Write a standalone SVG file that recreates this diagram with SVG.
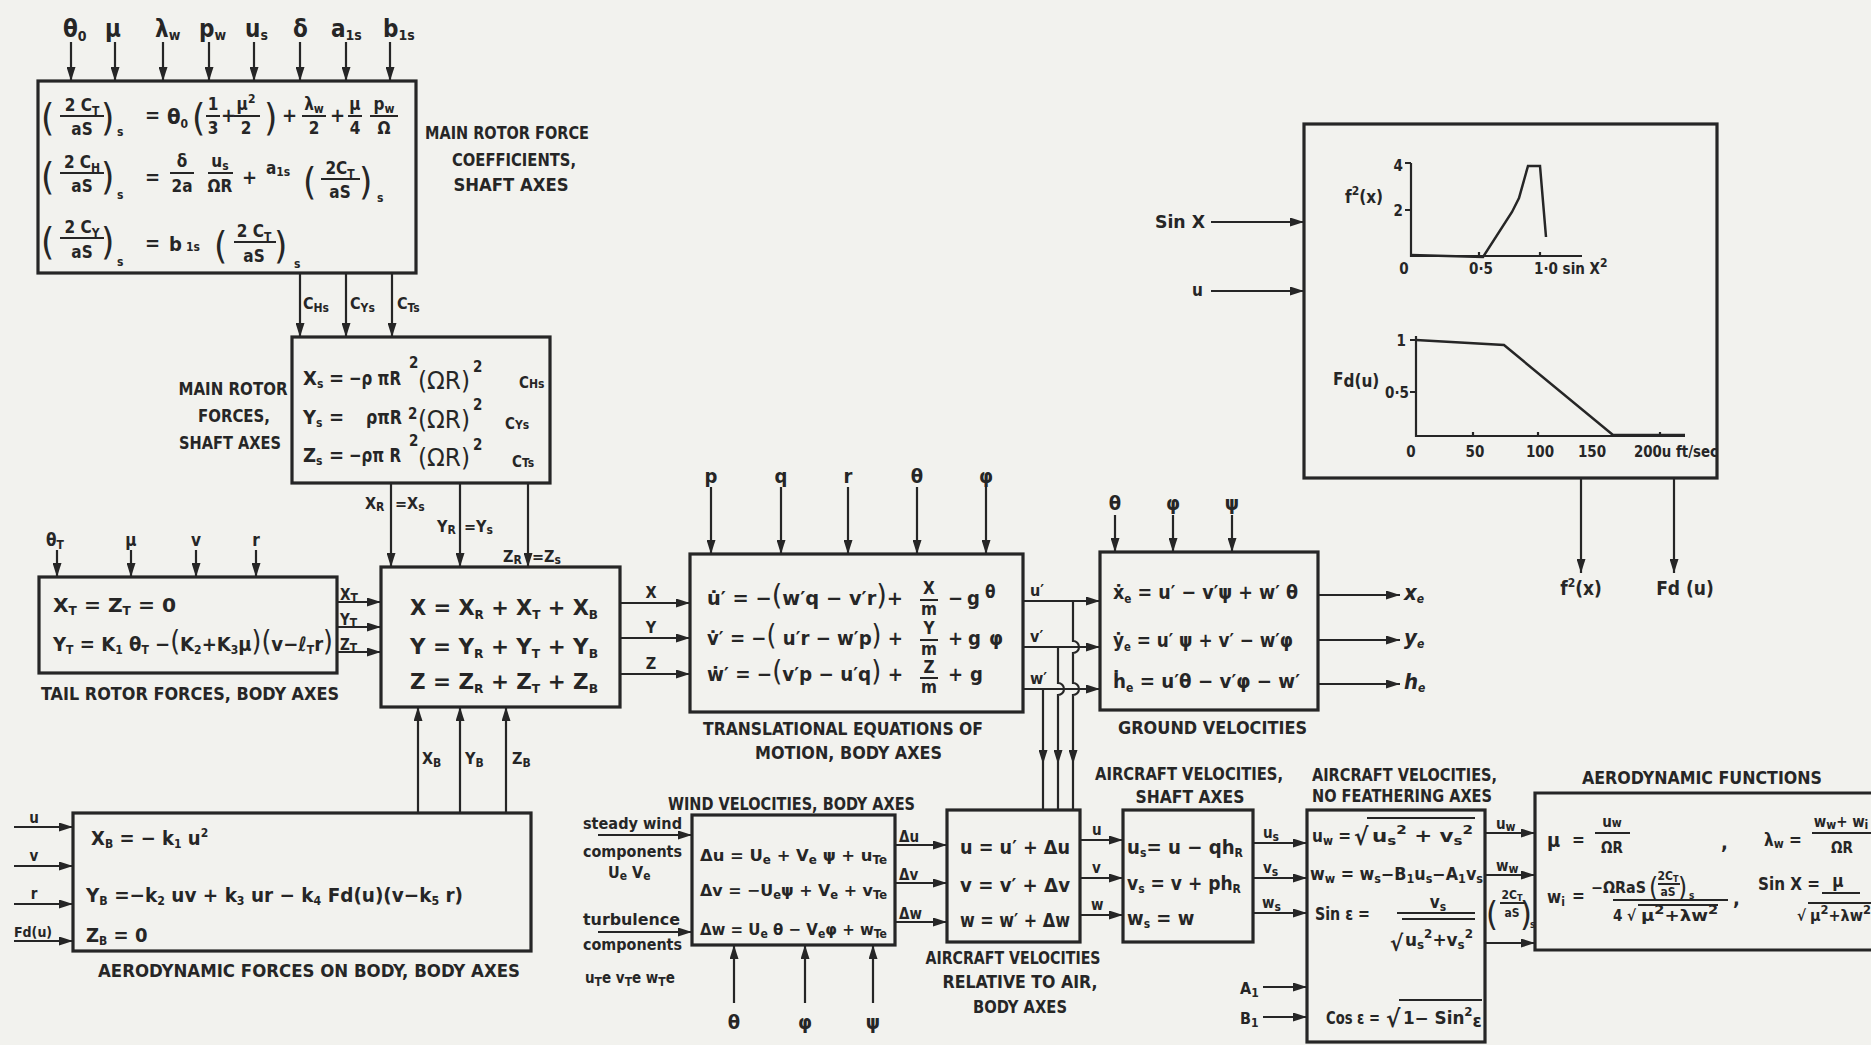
<svg xmlns="http://www.w3.org/2000/svg" width="1871" height="1045" viewBox="0 0 1871 1045">
<style>
.t{font-family:"DejaVu Sans Condensed","DejaVu Sans",sans-serif;font-weight:bold;fill:#262626}
.e{font-size:20px}
.w{font-size:16.5px}
.f{font-size:17px}
.s{font-size:12px}
.c{font-size:17px}
.l{font-size:16px}
.g{font-size:15px}
.p{font-size:38px;font-weight:normal}
.q{font-size:28px;font-weight:normal}
.box{fill:none;stroke:#262626;stroke-width:3.2}
.ln{fill:none;stroke:#262626;stroke-width:2.2}
.bar{stroke:#262626;stroke-width:2}
.cv{fill:none;stroke:#262626;stroke-width:2.5}
</style>
<defs>
<marker id="ah" markerUnits="userSpaceOnUse" markerWidth="14" markerHeight="9" refX="14" refY="4.5" orient="auto">
<path d="M0,0 L14,4.5 L0,9 z" fill="#262626"/>
</marker>
</defs>
<rect x="0" y="0" width="1871" height="1045" fill="#f2f2ee"/>

<g id="connectors">
<g marker-end="url(#ah)" class="ln">
<path d="M71,42 V81"/><path d="M115,42 V81"/><path d="M163,42 V81"/><path d="M209,42 V81"/>
<path d="M254,42 V81"/><path d="M300,42 V81"/><path d="M346,42 V81"/><path d="M390,42 V81"/>
<path d="M300,273 V337"/><path d="M346,273 V337"/><path d="M392,273 V337"/>
<path d="M391,483 V567"/><path d="M460,483 V567"/><path d="M528,483 V567"/>
<path d="M57,550 V577"/><path d="M131,550 V577"/><path d="M196,550 V577"/><path d="M256,550 V577"/>
<path d="M337,602 H381"/><path d="M337,627 H381"/><path d="M337,652 H381"/>
<path d="M418,813 V707"/><path d="M460,813 V707"/><path d="M506,813 V707"/>
<path d="M14,827 H73"/><path d="M14,866 H73"/><path d="M14,904 H73"/><path d="M14,941 H73"/>
<path d="M620,603 H690"/><path d="M620,638 H690"/><path d="M620,674 H690"/>
<path d="M711,487 V554"/><path d="M781,487 V554"/><path d="M848,487 V554"/><path d="M917,487 V554"/><path d="M986,487 V554"/>
<path d="M1023,601 H1100"/><path d="M1023,647 H1100"/><path d="M1023,689 H1100"/>
<path d="M1073,601 V641 a6,6 0 0 1 0,12 V683 a6,6 0 0 1 0,12 V764"/>
<path d="M1058,647 V683 a6,6 0 0 1 0,12 V764"/>
<path d="M1043,689 V764"/>
<path d="M1115,515 V552"/><path d="M1173,515 V552"/><path d="M1232,515 V552"/>
<path d="M1318,595 H1400"/><path d="M1318,640 H1400"/><path d="M1318,684 H1400"/>
<path d="M1211,222 H1304"/><path d="M1211,291 H1304"/>
<path d="M1581,478 V573"/><path d="M1674,478 V573"/>
<path d="M598,835 H692"/><path d="M598,932 H692"/>
<path d="M734,1003 V945"/><path d="M805,1003 V945"/><path d="M873,1003 V945"/>
<path d="M895,845 H947"/><path d="M895,883 H947"/><path d="M895,922 H947"/>
<path d="M1080,840 H1123"/><path d="M1080,878 H1123"/><path d="M1080,915 H1123"/>
<path d="M1253,843 H1307"/><path d="M1253,878 H1307"/><path d="M1253,913 H1307"/>
<path d="M1263,987 H1307"/><path d="M1263,1017 H1307"/>
<path d="M1485,833 H1535"/><path d="M1485,875 H1535"/><path d="M1485,943 H1535"/>
</g>
<path class="ln" d="M1073,764 V810"/><path class="ln" d="M1058,764 V810"/><path class="ln" d="M1043,764 V810"/>
<text class="t" style="font-size:24px" x="63" y="37">θ<tspan style="font-size:14px" dy="4">0</tspan></text>
<text class="t" style="font-size:24px" x="105" y="37">μ</text>
<text class="t" style="font-size:24px" x="155" y="37">λ<tspan style="font-size:14px" dy="3">w</tspan></text>
<text class="t" style="font-size:24px" x="199" y="37">p<tspan style="font-size:14px" dy="3">w</tspan></text>
<text class="t" style="font-size:24px" x="245" y="37">u<tspan style="font-size:14px" dy="3">s</tspan></text>
<text class="t" style="font-size:24px" x="293" y="37">δ</text>
<text class="t" style="font-size:24px" x="331" y="37">a<tspan style="font-size:14px" dy="3">1s</tspan></text>
<text class="t" style="font-size:24px" x="383" y="37">b<tspan style="font-size:14px" dy="3">1s</tspan></text>
<text class="t l" x="303" y="309">C<tspan class="s" dy="3">Hs</tspan></text>
<text class="t l" x="350" y="309">C<tspan class="s" dy="3">Ys</tspan></text>
<text class="t l" x="397" y="309">C<tspan class="s" dy="3">Ts</tspan></text>
<text class="t l" x="365" y="509">X<tspan class="s" dy="2">R</tspan></text>
<text class="t l" x="395" y="509">=X<tspan class="s" dy="2">s</tspan></text>
<text class="t l" x="437" y="532">Y<tspan class="s" dy="2">R</tspan></text>
<text class="t l" x="464" y="532">=Y<tspan class="s" dy="2">s</tspan></text>
<text class="t l" x="503" y="562">Z<tspan class="s" dy="2">R</tspan></text>
<text class="t l" x="532" y="562">=Z<tspan class="s" dy="2">s</tspan></text>
<text class="t f" x="46" y="546">θ<tspan class="s" dy="3">T</tspan></text>
<text class="t f" x="131" y="546" text-anchor="middle">μ</text>
<text class="t f" x="196" y="546" text-anchor="middle">v</text>
<text class="t f" x="256" y="546" text-anchor="middle">r</text>
<text class="t g" x="340" y="600">X<tspan class="s" dy="2">T</tspan></text>
<text class="t g" x="340" y="625">Y<tspan class="s" dy="2">T</tspan></text>
<text class="t g" x="340" y="650">Z<tspan class="s" dy="2">T</tspan></text>
<text class="t l" x="422" y="764">X<tspan class="s" dy="3">B</tspan></text>
<text class="t l" x="465" y="764">Y<tspan class="s" dy="3">B</tspan></text>
<text class="t l" x="512" y="764">Z<tspan class="s" dy="3">B</tspan></text>
<text class="t g" x="34" y="823" text-anchor="middle">u</text>
<text class="t g" x="34" y="861" text-anchor="middle">v</text>
<text class="t g" x="34" y="899" text-anchor="middle">r</text>
<text class="t" style="font-size:14px" x="14" y="937">Fd(u)</text>
<text class="t l" x="651" y="598" text-anchor="middle">X</text>
<text class="t l" x="651" y="633" text-anchor="middle">Y</text>
<text class="t l" x="651" y="669" text-anchor="middle">Z</text>
<text class="t e" x="711" y="483" text-anchor="middle">p</text>
<text class="t e" x="781" y="483" text-anchor="middle">q</text>
<text class="t e" x="848" y="483" text-anchor="middle">r</text>
<text class="t e" x="917" y="483" text-anchor="middle">θ</text>
<text class="t e" x="986" y="483" text-anchor="middle">φ</text>
<text class="t l" x="1030" y="596">u′</text>
<text class="t l" x="1030" y="642">v′</text>
<text class="t l" x="1030" y="684">w′</text>
<text class="t e" x="1115" y="510" text-anchor="middle">θ</text>
<text class="t e" x="1173" y="510" text-anchor="middle">φ</text>
<text class="t e" x="1232" y="510" text-anchor="middle">ψ</text>
<text class="t" style="font-size:22px;font-style:italic" x="1404" y="600">x<tspan class="s" dy="3">e</tspan></text>
<text class="t" style="font-size:22px;font-style:italic" x="1404" y="645">y<tspan class="s" dy="3">e</tspan></text>
<text class="t" style="font-size:22px;font-style:italic" x="1404" y="689">h<tspan class="s" dy="3">e</tspan></text>
<text class="t f" x="1155" y="228" textLength="50" lengthAdjust="spacingAndGlyphs">Sin X</text>
<text class="t f" x="1192" y="296">u</text>
<text class="t" style="font-size:19px" x="1581" y="595" text-anchor="middle">f<tspan class="s" dy="-8">2</tspan><tspan dy="8">(x)</tspan></text>
<text class="t" style="font-size:19px" x="1685" y="595" text-anchor="middle">Fd (u)</text>
<text class="t l" x="583" y="829" textLength="99" lengthAdjust="spacingAndGlyphs">steady wind</text>
<text class="t l" x="583" y="857" textLength="99" lengthAdjust="spacingAndGlyphs">components</text>
<text class="t l" x="608" y="878">U<tspan class="s" dy="2">e</tspan><tspan dy="-2"> V</tspan><tspan class="s" dy="2">e</tspan></text>
<text class="t l" x="583" y="925" textLength="97" lengthAdjust="spacingAndGlyphs">turbulence</text>
<text class="t l" x="583" y="950" textLength="99" lengthAdjust="spacingAndGlyphs">components</text>
<text class="t" style="font-size:15px" x="585" y="983">u<tspan class="s" dy="3">T</tspan><tspan dy="-3">e  v</tspan><tspan class="s" dy="3">T</tspan><tspan dy="-3">e  w</tspan><tspan class="s" dy="3">T</tspan><tspan dy="-3">e</tspan></text>
<text class="t e" x="734" y="1029" text-anchor="middle">θ</text>
<text class="t e" x="805" y="1029" text-anchor="middle">φ</text>
<text class="t e" x="873" y="1029" text-anchor="middle">ψ</text>
<text class="t g" x="899" y="842">Δu</text>
<text class="t g" x="899" y="880">Δv</text>
<text class="t g" x="899" y="919">Δw</text>
<text class="t g" x="1092" y="835">u</text>
<text class="t g" x="1092" y="873">v</text>
<text class="t g" x="1091" y="910">w</text>
<text class="t g" x="1263" y="838">u<tspan class="s" dy="3">s</tspan></text>
<text class="t g" x="1263" y="873">v<tspan class="s" dy="3">s</tspan></text>
<text class="t g" x="1262" y="908">w<tspan class="s" dy="3">s</tspan></text>
<text class="t l" x="1240" y="994">A<tspan class="s" dy="3">1</tspan></text>
<text class="t l" x="1240" y="1024">B<tspan class="s" dy="3">1</tspan></text>
<text class="t g" x="1496" y="829">u<tspan class="s" dy="2">w</tspan></text>
<text class="t g" x="1496" y="871">w<tspan class="s" dy="2">w</tspan></text>
<text class="t p" style="font-size:34px" x="1486" y="926">(</text>
<text class="t s" x="1512" y="899" text-anchor="middle">2C<tspan style="font-size:9px" dy="2">T</tspan></text>
<line class="bar" x1="1500" y1="903" x2="1525" y2="903"/>
<text class="t s" x="1512" y="917" text-anchor="middle">aS</text>
<text class="t p" style="font-size:34px" x="1520" y="926">)</text>
<text class="t" style="font-size:10px" x="1530" y="928">s</text>
</g>

<g id="node-main-rotor-coefficients">
<rect class="box" x="38" y="81" width="378" height="192"/>
<text class="t p" x="41" y="130">(</text>
<text class="t f" x="82" y="111" text-anchor="middle">2 C<tspan class="s" dy="4">T</tspan></text>
<line class="bar" x1="60" y1="116" x2="104" y2="116"/>
<text class="t f" x="82" y="135" text-anchor="middle">aS</text>
<text class="t p" x="101" y="130">)</text>
<text class="t s" x="117" y="136">s</text>
<text class="t e" x="145" y="122">=</text>
<text class="t" style="font-size:22px" x="167" y="124">θ<tspan class="s" dy="4">0</tspan></text>
<text class="t p" x="192" y="130">(</text>
<text class="t f" x="213" y="110" text-anchor="middle">1</text>
<line class="bar" x1="206" y1="116" x2="220" y2="116"/>
<text class="t f" x="213" y="134" text-anchor="middle">3</text>
<text class="t e" x="221" y="122">+</text>
<text class="t f" x="246" y="110" text-anchor="middle">μ<tspan class="s" dy="-7">2</tspan></text>
<line class="bar" x1="234" y1="116" x2="260" y2="116"/>
<text class="t f" x="246" y="134" text-anchor="middle">2</text>
<text class="t p" x="264" y="130">)</text>
<text class="t e" x="282" y="122">+</text>
<text class="t f" x="314" y="110" text-anchor="middle">λ<tspan class="s" dy="3">w</tspan></text>
<line class="bar" x1="302" y1="116" x2="326" y2="116"/>
<text class="t f" x="314" y="134" text-anchor="middle">2</text>
<text class="t e" x="330" y="122">+</text>
<text class="t f" x="355" y="110" text-anchor="middle">μ</text>
<line class="bar" x1="348" y1="116" x2="362" y2="116"/>
<text class="t f" x="355" y="134" text-anchor="middle">4</text>
<text class="t f" x="384" y="110" text-anchor="middle">p<tspan class="s" dy="3">w</tspan></text>
<line class="bar" x1="370" y1="116" x2="398" y2="116"/>
<text class="t f" x="384" y="134" text-anchor="middle">Ω</text>

<text class="t p" x="41" y="189">(</text>
<text class="t f" x="82" y="168" text-anchor="middle">2 C<tspan class="s" dy="4">H</tspan></text>
<line class="bar" x1="60" y1="173" x2="104" y2="173"/>
<text class="t f" x="82" y="192" text-anchor="middle">aS</text>
<text class="t p" x="101" y="189">)</text>
<text class="t s" x="117" y="199">s</text>
<text class="t e" x="145" y="184">=</text>
<text class="t f" x="182" y="167" text-anchor="middle">δ</text>
<line class="bar" x1="170" y1="173" x2="194" y2="173"/>
<text class="t f" x="182" y="192" text-anchor="middle">2a</text>
<text class="t f" x="220" y="167" text-anchor="middle">u<tspan class="s" dy="3">s</tspan></text>
<line class="bar" x1="208" y1="173" x2="233" y2="173"/>
<text class="t f" x="220" y="192" text-anchor="middle">ΩR</text>
<text class="t e" x="242" y="184">+</text>
<text class="t f" x="266" y="174">a<tspan class="s" dy="2">1s</tspan></text>
<text class="t p" x="303" y="194">(</text>
<text class="t f" x="340" y="174" text-anchor="middle">2C<tspan class="s" dy="4">T</tspan></text>
<line class="bar" x1="321" y1="179" x2="360" y2="179"/>
<text class="t f" x="340" y="198" text-anchor="middle">aS</text>
<text class="t p" x="359" y="194">)</text>
<text class="t s" x="377" y="202">s</text>

<text class="t p" x="41" y="254">(</text>
<text class="t f" x="82" y="233" text-anchor="middle">2 C<tspan class="s" dy="4">Y</tspan></text>
<line class="bar" x1="60" y1="238" x2="104" y2="238"/>
<text class="t f" x="82" y="258" text-anchor="middle">aS</text>
<text class="t p" x="101" y="254">)</text>
<text class="t s" x="117" y="266">s</text>
<text class="t e" x="145" y="250">=</text>
<text class="t e" x="169" y="251">b<tspan class="s" dx="4">1s</tspan></text>
<text class="t p" x="214" y="258">(</text>
<text class="t f" x="254" y="237" text-anchor="middle">2 C<tspan class="s" dy="4">T</tspan></text>
<line class="bar" x1="234" y1="242" x2="276" y2="242"/>
<text class="t f" x="254" y="262" text-anchor="middle">aS</text>
<text class="t p" x="274" y="258">)</text>
<text class="t s" x="294" y="268">s</text>
<text class="t c" x="507" y="139" text-anchor="middle" textLength="164" lengthAdjust="spacingAndGlyphs">MAIN ROTOR FORCE</text>
<text class="t c" x="514" y="166" text-anchor="middle" textLength="124" lengthAdjust="spacingAndGlyphs">COEFFICIENTS,</text>
<text class="t c" x="511" y="191" text-anchor="middle" textLength="115" lengthAdjust="spacingAndGlyphs">SHAFT AXES</text>
</g>

<g id="node-main-rotor-forces">
<rect class="box" x="292" y="337" width="258" height="146"/>
<text class="t e" x="303" y="385">X<tspan class="s" dy="3">s</tspan></text>
<text class="t e" x="329" y="385">=</text>
<text class="t e" x="349" y="385" textLength="52" lengthAdjust="spacingAndGlyphs">−ρ πR</text>
<text class="t g" x="409" y="368">2</text>
<text class="t" style="font-size:24px;font-weight:normal" x="418" y="389" textLength="52" lengthAdjust="spacingAndGlyphs">(ΩR)</text>
<text class="t g" x="473" y="372">2</text>
<text class="t g" x="519" y="388">C<tspan class="s">Hs</tspan></text>
<text class="t e" x="303" y="424">Y<tspan class="s" dy="3">s</tspan></text>
<text class="t e" x="329" y="424">=</text>
<text class="t e" x="366" y="424" textLength="36" lengthAdjust="spacingAndGlyphs">ρπR</text>
<text class="t g" x="408" y="419">2</text>
<text class="t" style="font-size:24px;font-weight:normal" x="418" y="428" textLength="52" lengthAdjust="spacingAndGlyphs">(ΩR)</text>
<text class="t g" x="473" y="410">2</text>
<text class="t g" x="505" y="429">C<tspan class="s">Ys</tspan></text>
<text class="t e" x="303" y="462">Z<tspan class="s" dy="3">s</tspan></text>
<text class="t e" x="329" y="462">=</text>
<text class="t e" x="349" y="462" textLength="52" lengthAdjust="spacingAndGlyphs">−ρπ R</text>
<text class="t g" x="409" y="446">2</text>
<text class="t" style="font-size:24px;font-weight:normal" x="418" y="466" textLength="52" lengthAdjust="spacingAndGlyphs">(ΩR)</text>
<text class="t g" x="473" y="450">2</text>
<text class="t g" x="512" y="467">C<tspan class="s">Ts</tspan></text>
<text class="t c" x="233" y="395" text-anchor="middle" textLength="109" lengthAdjust="spacingAndGlyphs">MAIN ROTOR</text>
<text class="t c" x="234" y="422" text-anchor="middle" textLength="72" lengthAdjust="spacingAndGlyphs">FORCES,</text>
<text class="t c" x="230" y="449" text-anchor="middle" textLength="102" lengthAdjust="spacingAndGlyphs">SHAFT AXES</text>
</g>

<g id="node-tail-rotor">
<rect class="box" x="39" y="577" width="298" height="96"/>
<text class="t e" x="53" y="612" textLength="123" lengthAdjust="spacingAndGlyphs">X<tspan class="s" dy="3">T</tspan><tspan dy="-3"> = Z</tspan><tspan class="s" dy="3">T</tspan><tspan dy="-3"> = 0</tspan></text>
<text class="t e" x="53" y="651" textLength="280" lengthAdjust="spacingAndGlyphs">Y<tspan class="s" dy="3">T</tspan><tspan dy="-3"> = K</tspan><tspan class="s" dy="3">1</tspan><tspan dy="-3"> θ</tspan><tspan class="s" dy="3">T</tspan><tspan dy="-3"> −</tspan><tspan class="q">(</tspan>K<tspan class="s" dy="3">2</tspan><tspan dy="-3">+K</tspan><tspan class="s" dy="3">3</tspan><tspan dy="-3">μ</tspan><tspan class="q">)(</tspan>v−ℓ<tspan class="s" dy="3">T</tspan><tspan dy="-3">r</tspan><tspan class="q">)</tspan></text>
<text class="t c" x="41" y="700" textLength="298" lengthAdjust="spacingAndGlyphs">TAIL ROTOR FORCES, BODY AXES</text>
</g>

<g id="node-force-sum">
<rect class="box" x="381" y="567" width="239" height="140"/>
<text class="t" style="font-size:21px" x="410" y="615" textLength="188" lengthAdjust="spacingAndGlyphs">X = X<tspan class="s" dy="4">R</tspan><tspan dy="-4"> + X</tspan><tspan class="s" dy="4">T</tspan><tspan dy="-4"> + X</tspan><tspan class="s" dy="4">B</tspan></text>
<text class="t" style="font-size:21px" x="410" y="654" textLength="188" lengthAdjust="spacingAndGlyphs">Y = Y<tspan class="s" dy="4">R</tspan><tspan dy="-4"> + Y</tspan><tspan class="s" dy="4">T</tspan><tspan dy="-4"> + Y</tspan><tspan class="s" dy="4">B</tspan></text>
<text class="t" style="font-size:21px" x="410" y="689" textLength="188" lengthAdjust="spacingAndGlyphs">Z = Z<tspan class="s" dy="4">R</tspan><tspan dy="-4"> + Z</tspan><tspan class="s" dy="4">T</tspan><tspan dy="-4"> + Z</tspan><tspan class="s" dy="4">B</tspan></text>
</g>

<g id="node-aero-body">
<rect class="box" x="73" y="813" width="458" height="138"/>
<text class="t e" x="91" y="845">X<tspan class="s" dy="3">B</tspan><tspan dy="-3"> = − k</tspan><tspan class="s" dy="3">1</tspan><tspan dy="-3"> u</tspan><tspan class="s" dy="-8">2</tspan></text>
<text class="t e" x="86" y="902" textLength="377" lengthAdjust="spacingAndGlyphs">Y<tspan class="s" dy="3">B</tspan><tspan dy="-3"> =−k</tspan><tspan class="s" dy="3">2</tspan><tspan dy="-3"> uv + k</tspan><tspan class="s" dy="3">3</tspan><tspan dy="-3"> ur − k</tspan><tspan class="s" dy="3">4</tspan><tspan dy="-3"> Fd(u)(v−k</tspan><tspan class="s" dy="3">5</tspan><tspan dy="-3"> r)</tspan></text>
<text class="t e" x="86" y="942">Z<tspan class="s" dy="3">B</tspan><tspan dy="-3"> = 0</tspan></text>
<text class="t c" x="98" y="977" textLength="422" lengthAdjust="spacingAndGlyphs">AERODYNAMIC FORCES ON BODY, BODY AXES</text>
</g>

<g id="node-translational">
<rect class="box" x="690" y="554" width="333" height="158"/>
<text class="t e" x="707" y="605" textLength="196" lengthAdjust="spacingAndGlyphs">u&#x307;′ = −<tspan class="q">(</tspan>w′q − v′r<tspan class="q">)</tspan>+</text>
<text class="t f" x="929" y="594" text-anchor="middle">X</text>
<line class="bar" x1="920" y1="600" x2="938" y2="600"/>
<text class="t f" x="929" y="615" text-anchor="middle">m</text>
<text class="t e" x="948" y="605">−</text>
<text class="t e" x="967" y="605">g</text>
<text class="t f" x="985" y="598">θ</text>
<text class="t e" x="707" y="645" textLength="196" lengthAdjust="spacingAndGlyphs">v&#x307;′ = −<tspan class="q">(</tspan> u′r − w′p<tspan class="q">)</tspan> +</text>
<text class="t f" x="929" y="634" text-anchor="middle">Y</text>
<line class="bar" x1="920" y1="640" x2="938" y2="640"/>
<text class="t f" x="929" y="655" text-anchor="middle">m</text>
<text class="t e" x="948" y="645">+</text>
<text class="t e" x="968" y="645">g</text>
<text class="t e" x="989" y="645">φ</text>
<text class="t e" x="707" y="681" textLength="196" lengthAdjust="spacingAndGlyphs">w&#x307;′ = −<tspan class="q">(</tspan>v′p − u′q<tspan class="q">)</tspan> +</text>
<text class="t f" x="929" y="673" text-anchor="middle">Z</text>
<line class="bar" x1="920" y1="678" x2="938" y2="678"/>
<text class="t f" x="929" y="693" text-anchor="middle">m</text>
<text class="t e" x="948" y="681">+</text>
<text class="t e" x="970" y="681">g</text>
<text class="t c" x="703" y="735" textLength="280" lengthAdjust="spacingAndGlyphs">TRANSLATIONAL EQUATIONS OF</text>
<text class="t c" x="755" y="759" textLength="187" lengthAdjust="spacingAndGlyphs">MOTION, BODY AXES</text>
</g>

<g id="node-ground-velocities">
<rect class="box" x="1100" y="552" width="218" height="158"/>
<text class="t e" x="1113" y="599" textLength="185" lengthAdjust="spacingAndGlyphs">x&#x307;<tspan class="s" dy="4">e</tspan><tspan dy="-4"> = u′ − v′ψ  + w′ θ</tspan></text>
<text class="t e" x="1113" y="647" textLength="180" lengthAdjust="spacingAndGlyphs">y&#x307;<tspan class="s" dy="4">e</tspan><tspan dy="-4"> = u′ ψ + v′ − w′φ</tspan></text>
<text class="t e" x="1113" y="688" textLength="187" lengthAdjust="spacingAndGlyphs">h&#x307;<tspan class="s" dy="4">e</tspan><tspan dy="-4"> = u′θ − v′φ − w′</tspan></text>
<text class="t c" x="1118" y="734" textLength="189" lengthAdjust="spacingAndGlyphs">GROUND VELOCITIES</text>
</g>

<g id="node-function-graphs">
<rect class="box" x="1304" y="124" width="413" height="354"/>
<path class="ln" d="M1411,163 V256 H1582 M1405,163 H1411 M1405,210 H1411 M1479,252 V256 M1540,252 V256"/>
<path class="cv" d="M1411,255 L1483,257 L1512,212 L1519,198 L1528,166 L1540,166 L1546,237"/>
<text class="t g" x="1403" y="171" text-anchor="end">4</text>
<text class="t g" x="1403" y="216" text-anchor="end">2</text>
<text class="t f" x="1345" y="203">f<tspan class="s" dy="-8">2</tspan><tspan dy="8">(x)</tspan></text>
<text class="t g" x="1404" y="274" text-anchor="middle">0</text>
<text class="t g" x="1481" y="274" text-anchor="middle">0·5</text>
<text class="t g" x="1534" y="274">1·0 sin X<tspan class="s" dy="-7">2</tspan></text>
<path class="ln" d="M1416,336 V436 H1685 M1410,340 H1416 M1410,392 H1416 M1473,432 V436 M1538,432 V436 M1660,432 V436"/>
<path class="cv" d="M1416,340 L1504,345 L1613,435 L1685,435"/>
<text class="t g" x="1406" y="346" text-anchor="end">1</text>
<text class="t g" x="1409" y="398" text-anchor="end">0·5</text>
<text class="t f" x="1333" y="385">F<tspan dy="2">d(u)</tspan></text>
<text class="t g" x="1411" y="457" text-anchor="middle">0</text>
<text class="t g" x="1475" y="457" text-anchor="middle">50</text>
<text class="t g" x="1540" y="457" text-anchor="middle">100</text>
<text class="t g" x="1592" y="457" text-anchor="middle">150</text>
<text class="t g" x="1634" y="457" textLength="84" lengthAdjust="spacingAndGlyphs">200u ft/sec</text>
</g>

<g id="node-wind-velocities">
<rect class="box" x="692" y="815" width="203" height="130"/>
<text class="t c" x="668" y="810" textLength="247" lengthAdjust="spacingAndGlyphs">WIND VELOCITIES, BODY AXES</text>
<text class="t w" x="700" y="861" textLength="187" lengthAdjust="spacingAndGlyphs">Δu = U<tspan class="s" dy="3">e</tspan><tspan dy="-3"> + V</tspan><tspan class="s" dy="3">e</tspan><tspan dy="-3"> ψ + u</tspan><tspan class="s" dy="3">Te</tspan></text>
<text class="t w" x="700" y="896" textLength="187" lengthAdjust="spacingAndGlyphs">Δv = −U<tspan class="s" dy="3">e</tspan><tspan dy="-3">ψ + V</tspan><tspan class="s" dy="3">e</tspan><tspan dy="-3"> + v</tspan><tspan class="s" dy="3">Te</tspan></text>
<text class="t w" x="700" y="935" textLength="187" lengthAdjust="spacingAndGlyphs">Δw = U<tspan class="s" dy="3">e</tspan><tspan dy="-3"> θ − V</tspan><tspan class="s" dy="3">e</tspan><tspan dy="-3">φ + w</tspan><tspan class="s" dy="3">Te</tspan></text>
</g>

<g id="node-air-relative-velocities">
<rect class="box" x="947" y="810" width="133" height="132"/>
<text class="t e" x="960" y="854" textLength="110" lengthAdjust="spacingAndGlyphs">u = u′ + Δu</text>
<text class="t e" x="960" y="892" textLength="110" lengthAdjust="spacingAndGlyphs">v = v′ + Δv</text>
<text class="t e" x="960" y="927" textLength="110" lengthAdjust="spacingAndGlyphs">w = w′ + Δw</text>
<text class="t c" x="1013" y="964" text-anchor="middle" textLength="175" lengthAdjust="spacingAndGlyphs">AIRCRAFT VELOCITIES</text>
<text class="t c" x="1020" y="988" text-anchor="middle" textLength="155" lengthAdjust="spacingAndGlyphs">RELATIVE TO AIR,</text>
<text class="t c" x="1020" y="1013" text-anchor="middle" textLength="94" lengthAdjust="spacingAndGlyphs">BODY AXES</text>
</g>

<g id="node-shaft-velocities">
<rect class="box" x="1123" y="810" width="130" height="132"/>
<text class="t c" x="1189" y="780" text-anchor="middle" textLength="188" lengthAdjust="spacingAndGlyphs">AIRCRAFT VELOCITIES,</text>
<text class="t c" x="1190" y="803" text-anchor="middle" textLength="109" lengthAdjust="spacingAndGlyphs">SHAFT AXES</text>
<text class="t e" x="1127" y="854" textLength="116" lengthAdjust="spacingAndGlyphs">u<tspan class="s" dy="3">s</tspan><tspan dy="-3">= u − qh</tspan><tspan class="s" dy="3">R</tspan></text>
<text class="t" style="font-size:19px" x="1127" y="890">v<tspan class="s" dy="3">s</tspan><tspan dy="-3"> = v + ph</tspan><tspan class="s" dy="3">R</tspan></text>
<text class="t e" x="1127" y="925">w<tspan class="s" dy="3">s</tspan><tspan dy="-3"> = w</tspan></text>
</g>

<g id="node-no-feathering-velocities">
<rect class="box" x="1307" y="810" width="178" height="232"/>
<text class="t c" x="1312" y="781" textLength="185" lengthAdjust="spacingAndGlyphs">AIRCRAFT VELOCITIES,</text>
<text class="t c" x="1312" y="802" textLength="180" lengthAdjust="spacingAndGlyphs">NO FEATHERING AXES</text>
<text class="t f" x="1312" y="842">u<tspan class="s" dy="3">w</tspan><tspan dy="-3"> =</tspan></text>
<text class="t" style="font-size:24px" x="1354" y="845">√</text>
<line class="bar" x1="1367" y1="818" x2="1475" y2="818"/>
<text class="t f" x="1372" y="842" textLength="101" lengthAdjust="spacingAndGlyphs">u<tspan class="s" dy="3">s</tspan><tspan class="s" dy="-11">2</tspan><tspan dy="8"> + v</tspan><tspan class="s" dy="3">s</tspan><tspan class="s" dy="-11">2</tspan></text>
<text class="t f" x="1310" y="880" textLength="173" lengthAdjust="spacingAndGlyphs">w<tspan class="s" dy="3">w</tspan><tspan dy="-3"> = w</tspan><tspan class="s" dy="3">s</tspan><tspan dy="-3">−B</tspan><tspan class="s" dy="3">1</tspan><tspan dy="-3">u</tspan><tspan class="s" dy="3">s</tspan><tspan dy="-3">−A</tspan><tspan class="s" dy="3">1</tspan><tspan dy="-3">v</tspan><tspan class="s" dy="3">s</tspan></text>
<text class="t f" x="1315" y="920" textLength="55" lengthAdjust="spacingAndGlyphs">Sin ε =</text>
<text class="t f" x="1438" y="908" text-anchor="middle">v<tspan class="s" dy="3">s</tspan></text>
<line class="bar" x1="1397" y1="913" x2="1475" y2="913"/>
<text class="t" style="font-size:22px" x="1390" y="951">√</text>
<line class="bar" x1="1402" y1="919" x2="1475" y2="919"/>
<text class="t f" x="1405" y="946" textLength="68" lengthAdjust="spacingAndGlyphs">u<tspan class="s" dy="3">s</tspan><tspan class="s" dy="-11">2</tspan><tspan dy="8">+v</tspan><tspan class="s" dy="3">s</tspan><tspan class="s" dy="-11">2</tspan></text>
<text class="t f" x="1326" y="1024" textLength="54" lengthAdjust="spacingAndGlyphs">Cos ε =</text>
<text class="t" style="font-size:24px" x="1386" y="1027">√</text>
<line class="bar" x1="1399" y1="1000" x2="1482" y2="1000"/>
<text class="t f" x="1403" y="1024" textLength="79" lengthAdjust="spacingAndGlyphs">1− Sin<tspan class="s" dy="-8">2</tspan><tspan dy="11">ε</tspan></text>
</g>

<g id="node-aerodynamic-functions">
<path class="box" d="M1880,793 H1535 V950 H1880"/>
<text class="t c" x="1582" y="784" textLength="240" lengthAdjust="spacingAndGlyphs">AERODYNAMIC FUNCTIONS</text>
<text class="t e" x="1547" y="847">μ</text>
<text class="t f" x="1572" y="846">=</text>
<text class="t g" x="1612" y="827" text-anchor="middle">u<tspan class="s">w</tspan></text>
<line class="bar" x1="1595" y1="833" x2="1630" y2="833"/>
<text class="t g" x="1612" y="853" text-anchor="middle">ΩR</text>
<text class="t e" x="1721" y="849">,</text>
<text class="t f" x="1764" y="846">λ<tspan class="s" dy="2">w</tspan><tspan dy="-2"> =</tspan></text>
<text class="t g" x="1841" y="827" text-anchor="middle">w<tspan class="s" dy="2">w</tspan><tspan dy="-2">+ w</tspan><tspan class="s" dy="2">i</tspan></text>
<line class="bar" x1="1812" y1="833" x2="1871" y2="833"/>
<text class="t g" x="1842" y="853" text-anchor="middle">ΩR</text>
<text class="t f" x="1547" y="903">w<tspan class="s" dy="3">i</tspan></text>
<text class="t f" x="1572" y="902">=</text>
<text class="t g" x="1591" y="893" textLength="55" lengthAdjust="spacingAndGlyphs">−ΩRaS</text>
<text class="t q" style="font-size:26px" x="1649" y="896">(</text>
<text class="t s" x="1668" y="880" text-anchor="middle">2C<tspan style="font-size:9px" dy="2">T</tspan></text>
<line class="bar" x1="1658" y1="884" x2="1680" y2="884"/>
<text class="t s" x="1668" y="896" text-anchor="middle">aS</text>
<text class="t q" style="font-size:26px" x="1678" y="896">)</text>
<text class="t" style="font-size:10px" x="1689" y="899">s</text>
<line class="bar" x1="1613" y1="900" x2="1728" y2="900"/>
<text class="t g" x="1613" y="921">4 √</text>
<line class="bar" x1="1638" y1="905" x2="1718" y2="905"/>
<text class="t g" x="1641" y="921" textLength="77" lengthAdjust="spacingAndGlyphs">μ<tspan class="s" dy="-7">2</tspan><tspan dy="7">+λw</tspan><tspan class="s" dy="-7">2</tspan></text>
<text class="t e" x="1733" y="905">,</text>
<text class="t f" x="1758" y="890" textLength="62" lengthAdjust="spacingAndGlyphs">Sin X =</text>
<text class="t f" x="1838" y="887" text-anchor="middle">μ</text>
<line class="bar" x1="1822" y1="893" x2="1860" y2="893"/>
<text class="t g" x="1797" y="921">√</text>
<line class="bar" x1="1808" y1="903" x2="1871" y2="903"/>
<text class="t g" x="1810" y="921" textLength="61" lengthAdjust="spacingAndGlyphs">μ<tspan class="s" dy="-7">2</tspan><tspan dy="7">+λw</tspan><tspan class="s" dy="-7">2</tspan></text>
</g>
</svg>
